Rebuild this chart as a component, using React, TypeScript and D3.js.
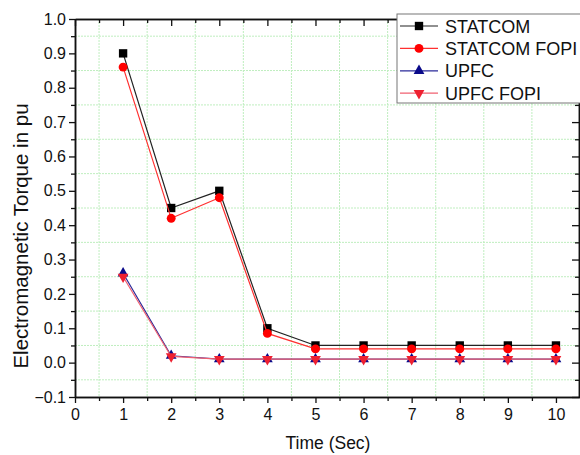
import { useRef, useEffect } from "react";
import * as d3 from "d3";

const times = [1, 2, 3, 4, 5, 6, 7, 8, 9, 10];
const statcom = [0.9, 0.45, 0.5, 0.1, 0.05, 0.05, 0.05, 0.05, 0.05, 0.05];
const statcomFopi = [0.86, 0.42, 0.48, 0.085, 0.04, 0.04, 0.04, 0.04, 0.04, 0.04];
const upfc = [0.26, 0.02, 0.01, 0.01, 0.01, 0.01, 0.01, 0.01, 0.01, 0.01];
const upfcFopi = [0.25, 0.018, 0.01, 0.01, 0.01, 0.01, 0.01, 0.01, 0.01, 0.01];

const xTicks = [0, 1, 2, 3, 4, 5, 6, 7, 8, 9, 10];
const yTicks = [-0.1, 0, 0.1, 0.2, 0.3, 0.4, 0.5, 0.6, 0.7, 0.8, 0.9, 1.0];

const seriesList = [
  { name: "STATCOM", values: statcom, line: "#222222", fill: "#000000", symbol: d3.symbolSquare, size: 70, rot: 0 },
  { name: "STATCOM FOPI", values: statcomFopi, line: "#ff3030", fill: "#ff0000", symbol: d3.symbolCircle, size: 62, rot: 0 },
  { name: "UPFC", values: upfc, line: "#2a2a9a", fill: "#0a0a8a", symbol: d3.symbolTriangle, size: 50, rot: 0 },
  { name: "UPFC FOPI", values: upfcFopi, line: "#f06070", fill: "#ee2030", symbol: d3.symbolTriangle, size: 50, rot: 180 },
];

const App = () => {
  const svgRef = useRef(null);

  useEffect(() => {
    const svg = d3.select(svgRef.current);
    svg.selectAll("*").remove();

    const left = 75, right = 580, top = 19, bottom = 397;
    const font = "'Liberation Sans', Arial, sans-serif";

    const x = d3.scaleLinear().domain([0, 10.5]).range([left, right]);
    const y = d3.scaleLinear().domain([-0.1, 1.0]).range([bottom, top]);

    const xMinor = d3.range(0.5, 10.5, 1);
    const yMinor = d3.range(-0.05, 1.0, 0.1);

    // grid (at half steps, as in the original)
    const grid = svg.append("g").attr("stroke", "#bfeebf").attr("stroke-width", 1).attr("stroke-dasharray", "2,1");
    grid.selectAll(".gx").data(xMinor).join("line")
      .attr("x1", (d) => x(d)).attr("x2", (d) => x(d)).attr("y1", top).attr("y2", bottom);
    grid.selectAll(".gy").data(yMinor).join("line")
      .attr("x1", left).attr("x2", right).attr("y1", (d) => y(d)).attr("y2", (d) => y(d));

    // axes
    const styleAxis = (g) => {
      g.select(".domain").attr("stroke", "#111").attr("stroke-width", 1.5);
      g.selectAll(".tick line").attr("stroke", "#111").attr("stroke-width", 1.3);
      g.selectAll("text").attr("font-family", font).attr("font-size", 16).attr("fill", "#111");
    };

    svg.append("g").attr("transform", `translate(0,${bottom})`)
      .call(d3.axisBottom(x).tickValues(xTicks).tickSize(6).tickPadding(6).tickSizeOuter(0).tickFormat(d3.format("d")))
      .call(styleAxis);
    svg.append("g").attr("transform", `translate(0,${bottom})`)
      .call(d3.axisBottom(x).tickValues(xMinor).tickSize(4).tickSizeOuter(0).tickFormat(() => ""))
      .call(styleAxis);

    svg.append("g").attr("transform", `translate(${left},0)`)
      .call(d3.axisLeft(y).tickValues(yTicks).tickSize(6).tickPadding(3).tickSizeOuter(0).tickFormat(d3.format(".1f")))
      .call(styleAxis);
    svg.append("g").attr("transform", `translate(${left},0)`)
      .call(d3.axisLeft(y).tickValues(yMinor).tickSize(4).tickSizeOuter(0).tickFormat(() => ""))
      .call(styleAxis);

    svg.append("g").attr("transform", `translate(0,${top})`)
      .call(d3.axisTop(x).tickValues(xTicks).tickSize(-7).tickSizeOuter(0).tickFormat(() => ""))
      .call(styleAxis);
    svg.append("g").attr("transform", `translate(0,${top})`)
      .call(d3.axisTop(x).tickValues(xMinor).tickSize(-4).tickSizeOuter(0).tickFormat(() => ""))
      .call(styleAxis);

    svg.append("g").attr("transform", `translate(${right - 1},0)`)
      .call(d3.axisRight(y).tickValues(yTicks).tickSize(-7).tickSizeOuter(0).tickFormat(() => ""))
      .call(styleAxis);
    svg.append("g").attr("transform", `translate(${right - 1},0)`)
      .call(d3.axisRight(y).tickValues(yMinor).tickSize(-4).tickSizeOuter(0).tickFormat(() => ""))
      .call(styleAxis);

    // axis titles
    svg.append("text")
      .attr("x", 328).attr("y", 449)
      .attr("text-anchor", "middle")
      .attr("font-family", font).attr("font-size", 17.5).attr("fill", "#111")
      .text("Time (Sec)");
    svg.append("text")
      .attr("transform", `translate(28,236) rotate(-90)`)
      .attr("text-anchor", "middle")
      .attr("font-family", font).attr("font-size", 20.5).attr("fill", "#111")
      .text("Electromagnetic Torque in pu");

    // series
    const line = d3.line().x((d) => x(d[0])).y((d) => y(d[1]));
    seriesList.forEach((s) => {
      const pts = times.map((t, i) => [t, s.values[i]]);
      svg.append("path").datum(pts)
        .attr("d", line).attr("fill", "none")
        .attr("stroke", s.line).attr("stroke-width", 1.2);
      svg.append("g").selectAll("path").data(pts).join("path")
        .attr("transform", (d) => `translate(${x(d[0])},${y(d[1])}) rotate(${s.rot})`)
        .attr("d", d3.symbol(s.symbol, s.size)())
        .attr("fill", s.fill);
    });

    // legend
    const lg = svg.append("g");
    lg.append("rect")
      .attr("x", 397).attr("y", 14).attr("width", 190).attr("height", 89)
      .attr("fill", "#fff").attr("stroke", "#777").attr("stroke-width", 1);
    seriesList.forEach((s, i) => {
      const ly = 26 + i * 22.4;
      lg.append("line").attr("x1", 400).attr("x2", 438).attr("y1", ly).attr("y2", ly)
        .attr("stroke", s.line).attr("stroke-width", 1.2);
      lg.append("path")
        .attr("transform", `translate(419,${ly}) rotate(${s.rot})`)
        .attr("d", d3.symbol(s.symbol, s.size)())
        .attr("fill", s.fill);
      lg.append("text").attr("x", 445).attr("y", ly + 6.5)
        .attr("font-family", font).attr("font-size", 18).attr("fill", "#111")
        .text(s.name);
    });
  }, []);

  return (
    <svg
      ref={svgRef}
      width={580}
      height={455}
      style={{ position: "absolute", left: 0, top: 0, background: "#fff" }}
    ></svg>
  );
};

export default App;
